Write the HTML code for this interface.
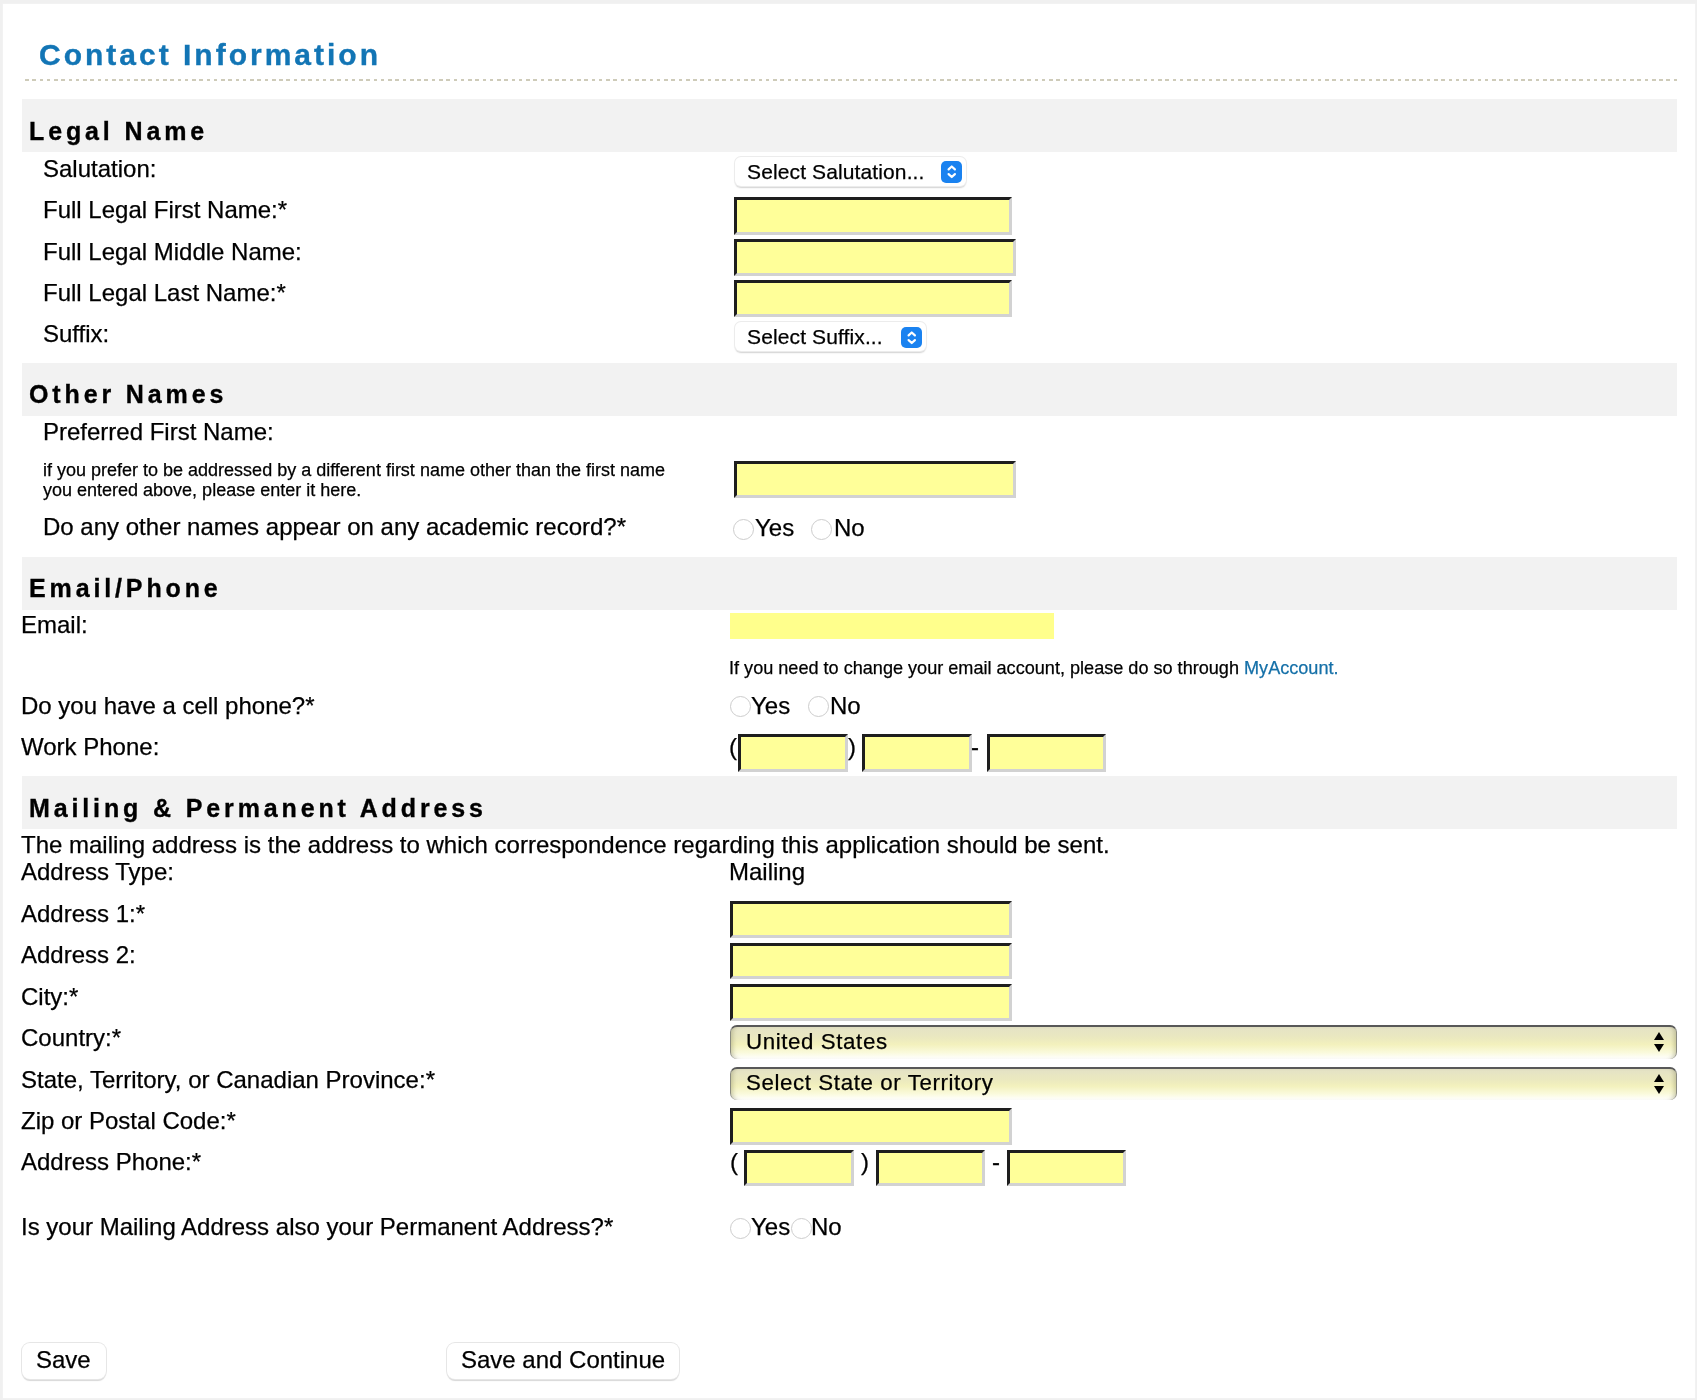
<!DOCTYPE html>
<html lang="en"><head><meta charset="utf-8"><title>Contact Information</title><style>
*{margin:0;padding:0;box-sizing:border-box}
html,body{width:1697px;height:1400px;overflow:hidden;background:#f0f0f0}
body{font-family:"Liberation Sans",Arial,Helvetica,sans-serif;color:#000;position:relative}
.page{position:absolute;left:3px;top:4px;width:1691.5px;height:1393.5px;background:#fff;box-shadow:0 0 1.5px #f6f6f6}
.t{position:absolute;white-space:nowrap;font-weight:400;-webkit-text-stroke:0.25px currentColor;will-change:transform}
h1.t,h2.t{font-weight:700}
.st{appearance:none;-webkit-appearance:none;border:0;background:transparent;padding:0;margin:0;font-family:inherit;color:#000;outline:none;overflow:visible}
.dots{position:absolute;background:repeating-linear-gradient(to right,#cecbb9 0 3.6px,transparent 3.6px 7.263px)}
.bar{position:absolute;background:#f2f2f2}
.inp{position:absolute;display:block;background:#ffff99;border-style:solid;border-width:3px;border-color:#1e1e1e #d2d2d2 #d2d2d2 #1e1e1e;border-radius:0;outline:none;padding:0;margin:0;font:inherit;-webkit-appearance:none;appearance:none}
.email{position:absolute;display:block;background:#ffff8c;border:0;border-radius:0;outline:none;padding:0;margin:0;-webkit-appearance:none;appearance:none}
.sel{position:absolute;background:#fff;border-radius:6px;box-shadow:0 0 0 1px #ececec,0 1.5px 1.5px rgba(0,0,0,0.18)}
.sb{position:absolute;background:#1a82f0;border-radius:5px;pointer-events:none}
.sb svg,.arr svg{display:block}
.rad{position:absolute;display:block;-webkit-appearance:none;appearance:none;margin:0;border-radius:50%;border:1.8px solid #cdcdcd;background:#fff;outline:none}
.bsel{position:absolute;border-radius:7px;border-top:2px solid #585858;border-left:1.5px solid #8a8a80;border-right:1.5px solid #8a8a80;box-shadow:inset 5px 0 4px -3px rgba(120,120,80,0.35),inset -5px 0 4px -3px rgba(120,120,80,0.35);
 background:linear-gradient(to bottom,#e4e2c6 0%,#ebe9bf 35%,#f3f1bd 55%,#fafadc 80%,#ffffff 100%)}
.arr{position:absolute;pointer-events:none}
.btn{position:absolute;display:block;background:#fff;border:0;border-radius:8px;box-shadow:0 0 0 1px #e6e6e6,0 1.5px 1px rgba(0,0,0,0.16);font:inherit;color:#000;padding:0;margin:0;-webkit-appearance:none;appearance:none;outline:none}
.btn span{position:absolute;white-space:nowrap;font-size:24px;line-height:24px;-webkit-text-stroke:0.25px currentColor;will-change:transform}
</style></head>
<body>
<form onsubmit="return false">
<div class="page"></div>
<h1 class="t" style="left:39.30px;top:39.51px;font-size:30px;line-height:30px;font-weight:700;color:#1275b5;letter-spacing:3.0px;-webkit-text-stroke:0.35px #1275b5;">Contact Information</h1>
<div class="dots" style="left:24.60px;top:78.80px;width:1655.40px;height:2.20px;"></div>
<div class="bar" style="left:22.00px;top:99.00px;width:1655.00px;height:53.00px;"></div>
<h2 class="t" style="left:28.50px;top:118.84px;font-size:25px;line-height:25px;font-weight:700;letter-spacing:3.87px;-webkit-text-stroke:0.35px #000;">Legal Name</h2>
<div class="bar" style="left:22.00px;top:363.00px;width:1655.00px;height:53.00px;"></div>
<h2 class="t" style="left:28.50px;top:382.34px;font-size:25px;line-height:25px;font-weight:700;letter-spacing:3.87px;-webkit-text-stroke:0.35px #000;">Other Names</h2>
<div class="bar" style="left:22.00px;top:556.50px;width:1655.00px;height:53.00px;"></div>
<h2 class="t" style="left:28.50px;top:576.34px;font-size:25px;line-height:25px;font-weight:700;letter-spacing:3.87px;-webkit-text-stroke:0.35px #000;">Email/Phone</h2>
<div class="bar" style="left:22.00px;top:776.00px;width:1655.00px;height:53.00px;"></div>
<h2 class="t" style="left:28.50px;top:796.34px;font-size:25px;line-height:25px;font-weight:700;letter-spacing:3.87px;-webkit-text-stroke:0.35px #000;">Mailing &amp; Permanent Address</h2>
<label class="t" for="salutation" style="left:43.00px;top:157.28px;font-size:24px;line-height:24px;">Salutation:</label>
<label class="t" for="first" style="left:43.00px;top:198.38px;font-size:24px;line-height:24px;">Full Legal First Name:*</label>
<label class="t" for="middle" style="left:43.00px;top:239.88px;font-size:24px;line-height:24px;">Full Legal Middle Name:</label>
<label class="t" for="last" style="left:43.00px;top:280.88px;font-size:24px;line-height:24px;">Full Legal Last Name:*</label>
<label class="t" for="suffix" style="left:43.00px;top:322.18px;font-size:24px;line-height:24px;">Suffix:</label>
<label class="t" for="preferred" style="left:43.00px;top:420.38px;font-size:24px;line-height:24px;">Preferred First Name:</label>
<p class="t" style="left:43.00px;top:515.38px;font-size:24px;line-height:24px;">Do any other names appear on any academic record?*</p>
<label class="t" for="email" style="left:21.00px;top:613.28px;font-size:24px;line-height:24px;">Email:</label>
<p class="t" style="left:21.00px;top:693.98px;font-size:24px;line-height:24px;">Do you have a cell phone?*</p>
<label class="t" for="wp1" style="left:21.00px;top:735.28px;font-size:24px;line-height:24px;">Work Phone:</label>
<p class="t" style="left:21.00px;top:833.08px;font-size:24px;line-height:24px;">The mailing address is the address to which correspondence regarding this application should be sent.</p>
<p class="t" style="left:21.00px;top:860.28px;font-size:24px;line-height:24px;">Address Type:</p>
<label class="t" for="addr1" style="left:21.00px;top:901.68px;font-size:24px;line-height:24px;">Address 1:*</label>
<label class="t" for="addr2" style="left:21.00px;top:943.08px;font-size:24px;line-height:24px;">Address 2:</label>
<label class="t" for="city" style="left:21.00px;top:984.68px;font-size:24px;line-height:24px;">City:*</label>
<label class="t" for="country" style="left:21.00px;top:1026.08px;font-size:24px;line-height:24px;">Country:*</label>
<label class="t" for="state" style="left:21.00px;top:1067.58px;font-size:24px;line-height:24px;">State, Territory, or Canadian Province:*</label>
<label class="t" for="zip" style="left:21.00px;top:1108.78px;font-size:24px;line-height:24px;">Zip or Postal Code:*</label>
<label class="t" for="ap1" style="left:21.00px;top:1150.28px;font-size:24px;line-height:24px;">Address Phone:*</label>
<p class="t" style="left:21.00px;top:1215.38px;font-size:24px;line-height:24px;">Is your Mailing Address also your Permanent Address?*</p>
<p class="t" style="left:729.20px;top:860.48px;font-size:24px;line-height:24px;">Mailing</p>
<p class="t" style="left:42.50px;top:461.36px;font-size:18px;line-height:18px;">if you prefer to be addressed by a different first name other than the first name</p>
<p class="t" style="left:42.50px;top:481.36px;font-size:18px;line-height:18px;">you entered above, please enter it here.</p>
<p class="t" style="left:728.50px;top:658.98px;font-size:18.1px;line-height:18.1px;">If you need to change your email account, please do so through <a href="#" style="color:#1570a8;text-decoration:none">MyAccount.</a></p>
<div class="sel" style="left:734.50px;top:156.50px;width:231.50px;height:29.00px;"></div>
<select class="t st" id="salutation" style="left:747.30px;top:156.62px;width:191.50px;height:30px;font-size:21px;line-height:30px;letter-spacing:0.12px;"><option>Select Salutation...</option></select>
<div class="sb" style="left:940.70px;top:161.10px;width:21.50px;height:21.50px;"><svg width="21.5" height="21.5" viewBox="0 0 21.5 21.5"><path d="M7.6 8.4 L10.75 5.5 L13.9 8.4 M7.6 13.1 L10.75 16 L13.9 13.1" stroke="#fff" stroke-width="2.2" fill="none" stroke-linecap="round" stroke-linejoin="round"/></svg></div>
<div class="sel" style="left:734.50px;top:322.00px;width:191.50px;height:29.00px;"></div>
<select class="t st" id="suffix" style="left:747.30px;top:321.72px;width:151.50px;height:30px;font-size:21px;line-height:30px;letter-spacing:0.12px;"><option>Select Suffix...</option></select>
<div class="sb" style="left:900.70px;top:326.60px;width:21.50px;height:21.50px;"><svg width="21.5" height="21.5" viewBox="0 0 21.5 21.5"><path d="M7.6 8.4 L10.75 5.5 L13.9 8.4 M7.6 13.1 L10.75 16 L13.9 13.1" stroke="#fff" stroke-width="2.2" fill="none" stroke-linecap="round" stroke-linejoin="round"/></svg></div>
<input type="text" class="inp" id="first" style="left:733.50px;top:197.00px;width:278.00px;height:37.50px;">
<input type="text" class="inp" id="middle" style="left:733.50px;top:238.50px;width:282.00px;height:37.00px;">
<input type="text" class="inp" id="last" style="left:733.50px;top:280.00px;width:278.00px;height:37.00px;">
<input type="text" class="inp" id="preferred" style="left:733.50px;top:460.50px;width:282.00px;height:37.00px;">
<input type="text" class="email" id="email" style="left:730.00px;top:612.50px;width:324.00px;height:26.50px;">
<input type="radio" name="othernames" class="rad" style="left:733.10px;top:518.50px;width:21.00px;height:21.00px;">
<span class="t" style="left:754.50px;top:515.68px;font-size:24px;line-height:24px;">Yes</span>
<input type="radio" name="othernames" class="rad" style="left:811.30px;top:518.50px;width:21.00px;height:21.00px;">
<span class="t" style="left:833.80px;top:515.68px;font-size:24px;line-height:24px;">No</span>
<input type="radio" name="cell" class="rad" style="left:729.80px;top:696.00px;width:21.00px;height:21.00px;">
<span class="t" style="left:751.00px;top:694.08px;font-size:24px;line-height:24px;">Yes</span>
<input type="radio" name="cell" class="rad" style="left:808.00px;top:696.00px;width:21.00px;height:21.00px;">
<span class="t" style="left:830.00px;top:694.08px;font-size:24px;line-height:24px;">No</span>
<input type="radio" name="perm" class="rad" style="left:729.70px;top:1217.70px;width:21.00px;height:21.00px;">
<span class="t" style="left:750.50px;top:1214.68px;font-size:24px;line-height:24px;">Yes</span>
<input type="radio" name="perm" class="rad" style="left:790.70px;top:1217.70px;width:21.00px;height:21.00px;">
<span class="t" style="left:810.50px;top:1214.68px;font-size:24px;line-height:24px;">No</span>
<span class="t" style="left:729.00px;top:735.18px;font-size:24px;line-height:24px;">(</span>
<input type="text" class="inp" id="wp1" style="left:738.00px;top:734.00px;width:110.00px;height:37.50px;">
<span class="t" style="left:847.50px;top:735.18px;font-size:24px;line-height:24px;">)</span>
<input type="text" class="inp" style="left:862.00px;top:734.00px;width:109.50px;height:37.50px;">
<span class="t" style="left:970.50px;top:734.68px;font-size:24px;line-height:24px;">-</span>
<input type="text" class="inp" style="left:986.50px;top:734.00px;width:119.50px;height:37.50px;">
<input type="text" class="inp" id="addr1" style="left:730.00px;top:901.00px;width:281.50px;height:37.00px;">
<input type="text" class="inp" id="addr2" style="left:730.00px;top:942.50px;width:281.50px;height:36.50px;">
<input type="text" class="inp" id="city" style="left:730.00px;top:983.50px;width:281.50px;height:37.00px;">
<div class="bsel" style="left:730.00px;top:1025.00px;width:947.00px;height:33.50px;"></div>
<select class="t st" id="country" style="left:746.00px;top:1025.87px;width:902.00px;height:32px;font-size:22.3px;line-height:32px;letter-spacing:0.6px;"><option>United States</option></select>
<div class="arr" style="left:1653.00px;top:1032.00px;width:12.00px;height:22.00px;"><svg width="12" height="22" viewBox="0 0 12 22"><path d="M6 0 L11 8 L1 8 Z M1 12 L11 12 L6 20 Z" fill="#000"/></svg></div>
<div class="bsel" style="left:730.00px;top:1066.50px;width:947.00px;height:33.50px;"></div>
<select class="t st" id="state" style="left:746.00px;top:1067.07px;width:902.00px;height:32px;font-size:22.3px;line-height:32px;letter-spacing:0.6px;"><option>Select State or Territory</option></select>
<div class="arr" style="left:1653.00px;top:1073.50px;width:12.00px;height:22.00px;"><svg width="12" height="22" viewBox="0 0 12 22"><path d="M6 0 L11 8 L1 8 Z M1 12 L11 12 L6 20 Z" fill="#000"/></svg></div>
<input type="text" class="inp" id="zip" style="left:730.00px;top:1108.00px;width:281.50px;height:37.00px;">
<span class="t" style="left:729.50px;top:1150.18px;font-size:24px;line-height:24px;">(</span>
<input type="text" class="inp" id="ap1" style="left:744.00px;top:1149.50px;width:110.00px;height:36.50px;">
<span class="t" style="left:861.00px;top:1150.18px;font-size:24px;line-height:24px;">)</span>
<input type="text" class="inp" style="left:875.50px;top:1149.50px;width:109.00px;height:36.50px;">
<span class="t" style="left:991.50px;top:1150.18px;font-size:24px;line-height:24px;">-</span>
<input type="text" class="inp" style="left:1006.50px;top:1149.50px;width:119.50px;height:36.50px;">
<button type="button" class="btn" style="left:21.50px;top:1343.00px;width:84.00px;height:36.20px;"><span style="left:14.20px;top:5.08px">Save</span></button>
<button type="button" class="btn" style="left:447.00px;top:1343.00px;width:231.50px;height:36.20px;"><span style="left:13.50px;top:5.08px">Save and Continue</span></button>
</form>
</body></html>
